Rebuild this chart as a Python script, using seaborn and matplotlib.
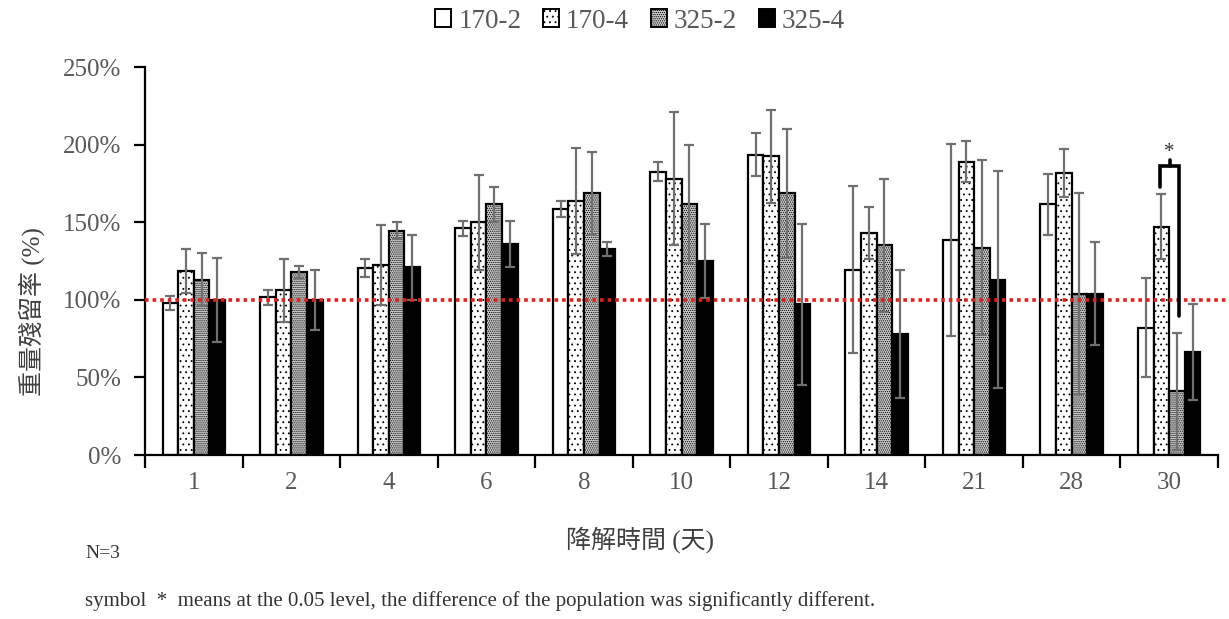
import numpy as np
import pandas as pd
import matplotlib
matplotlib.use("Agg")
import matplotlib.pyplot as plt
from matplotlib.patches import Patch
from matplotlib.ticker import FuncFormatter, FixedLocator
import seaborn as sns

# ---------------- data ----------------
days = ["1", "2", "4", "6", "8", "10", "12", "14", "21", "28", "30"]
groups = ["170-2", "170-4", "325-2", "325-4"]

mean_170_2 = [98, 101.5, 120.5, 146, 158.5, 182.5, 193.5, 119.5, 138.5, 161.5, 82]
mean_170_4 = [118.5, 106, 122.5, 150, 163.5, 178, 192.5, 143, 189, 181.5, 147]
mean_325_2 = [113, 118, 144.5, 161.5, 168.5, 161.5, 168.5, 135, 133.5, 104, 41]
mean_325_4 = [100, 100, 121, 136, 133, 125, 97, 78, 113, 104, 66.5]

sd_170_2 = [4.5, 5, 5.5, 5, 5, 6, 14, 54, 62, 19.5, 32]
sd_170_4 = [14, 20.5, 26, 30.5, 34, 43, 30, 16.5, 13, 15.5, 21]
sd_325_2 = [17, 4, 5.5, 11.5, 26.5, 38, 41.5, 43, 56.5, 65, 37.5]
sd_325_4 = [27, 19.5, 21, 15, 4.5, 24, 52, 41, 70, 33, 31]

ytick_vals = [0, 50, 100, 150, 200, 250]
reference_level = 100
sig_top, sig_left_end, sig_right_end, sig_star = 186.5, 173, 89.5, 195

means = [mean_170_2, mean_170_4, mean_325_2, mean_325_4]
sds = [sd_170_2, sd_170_4, sd_325_2, sd_325_4]

df = pd.DataFrame({
    "day": np.repeat([days], 4, axis=0).ravel(),
    "group": np.repeat(groups, len(days)),
    "value": np.concatenate(means),
})

# ---------------- style ----------------
sns.set_theme(style="white")
plt.rcParams["font.family"] = ["Liberation Serif", "Noto Sans CJK TC", "DejaVu Sans"]
plt.rcParams["hatch.linewidth"] = 0.6

faces = ["white", "white", "#cccccc", "black"]
hatches = [None, "...", "........", None]
hatch_cols = ["black", "#8a8a8a", "#707070", "black"]
gray_txt = "#595959"


def style_patch(p, i):
    p.set_facecolor(faces[i])
    if hatches[i]:
        p.set_hatch(hatches[i])
        if hasattr(p, "set_hatchcolor"):
            p.set_hatchcolor(hatch_cols[i])
    p.set_edgecolor("black")


fig = plt.figure(figsize=(12.29, 6.19), dpi=100)
ax = fig.add_axes([145 / 1229, 1 - 455 / 619, (1218 - 145) / 1229, (455 - 67) / 619])

sns.barplot(data=df, x="day", y="value", hue="group", order=days, hue_order=groups,
            palette=faces, width=0.64, edgecolor="black", linewidth=1.6,
            errorbar=None, legend=False, ax=ax, saturation=1)

bar_conts = list(ax.containers)
for i, cont in enumerate(bar_conts):
    for p in cont.patches:
        style_patch(p, i)
    xs = [p.get_x() + p.get_width() / 2 for p in cont.patches]
    hs = [p.get_height() for p in cont.patches]
    ax.errorbar(xs, hs, yerr=sds[i], fmt="none", ecolor="#707070",
                elinewidth=1.6, capsize=3.5, capthick=1.6, zorder=5)

# reference line at 100 %
ax.axhline(reference_level, xmin=0, xmax=1.012, color="#e0201c", lw=2.6,
           linestyle=(0, (1, 1.1)), zorder=6, clip_on=False)

# significance bracket on day 30
p_left = bar_conts[1].patches[-1]
p_right = bar_conts[2].patches[-1]
xl = p_left.get_x() + p_left.get_width() * 0.4
xr = p_right.get_x() + p_right.get_width() * 0.65
ax.plot([xl, xl, xr, xr], [sig_left_end, sig_top, sig_top, sig_right_end],
        color="black", lw=2.6, solid_joinstyle="miter", zorder=7)
xm = (xl + xr) / 2
ax.plot([xm, xm], [sig_top, sig_top + 3.5], color="black", lw=2.6, zorder=7)
ax.text(xm, sig_star, "*", ha="center", va="center", fontsize=15, color="#333333")

# axes formatting
ax.set_xlim(-0.5, len(days) - 0.5)
ax.set_ylim(0, 250)
ax.set_yticks(ytick_vals)
ax.yaxis.set_major_formatter(FuncFormatter(lambda v, _: f"{int(v)}%"))
ax.xaxis.set_minor_locator(FixedLocator(np.arange(-0.5, len(days), 1.0)))
ax.tick_params(axis="x", which="major", length=0, pad=12, labelsize=18, labelcolor=gray_txt)
ax.tick_params(axis="x", which="minor", length=9, width=1.6, color="black", direction="out",
               bottom=True)
ax.tick_params(axis="y", which="major", length=8, width=1.6, color="black", direction="out",
               pad=9, labelsize=18, labelcolor=gray_txt, left=True)
for s in ["top", "right"]:
    ax.spines[s].set_visible(False)
for s in ["left", "bottom"]:
    ax.spines[s].set_color("black")
    ax.spines[s].set_linewidth(1.6)
ax.set_xlabel("")
ax.set_ylabel("")
ax.grid(False)

fig.text(32 / 1229, 1 - 312 / 619, "重量殘留率 (%)", rotation=90, ha="center", va="center",
         fontsize=18, color="#404040")
fig.text(640 / 1229, 1 - 540 / 619, "降解時間 (天)", ha="center", va="center",
         fontsize=18, color="#404040")
fig.text(85 / 1229, 1 - 553 / 619, "N=3", ha="left", va="center", fontsize=14, color="#333333")
fig.text(85 / 1229, 1 - 601 / 619,
         "symbol  *  means at the 0.05 level, the difference of the population was significantly different.",
         ha="left", va="center", fontsize=15, color="#333333")

handles = []
for i in range(4):
    h = Patch(linewidth=1.4)
    style_patch(h, i)
    handles.append(h)
fig.legend(handles, groups, loc="center", bbox_to_anchor=(640 / 1229, 1 - 21 / 619), ncol=4,
           frameon=False, fontsize=19.5, handlelength=0.6, handleheight=0.6,
           handletextpad=0.25, columnspacing=0.8, labelcolor=gray_txt)

fig.savefig("out.png", dpi=100)
